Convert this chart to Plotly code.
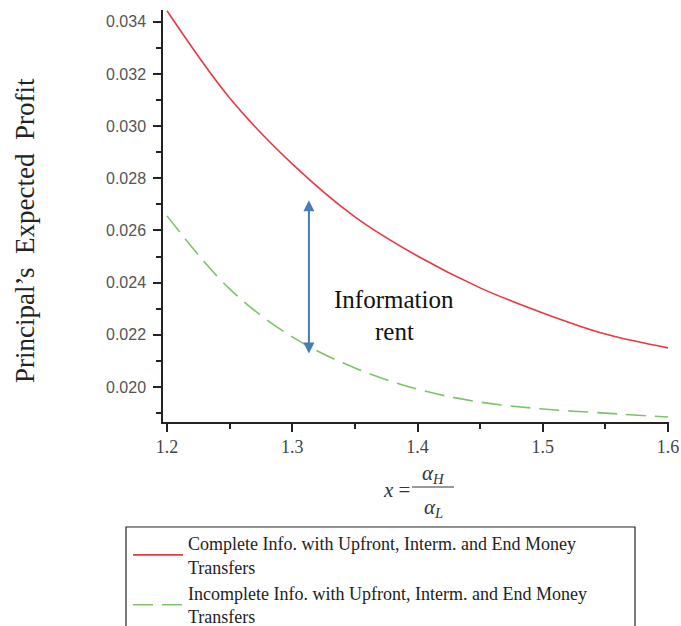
import plotly.graph_objects as go

# ---- data ----
x_vals = [1.20, 1.25, 1.30, 1.35, 1.40, 1.45, 1.50, 1.55, 1.60]
complete_info = [0.03442, 0.03108, 0.02855, 0.02652, 0.02502, 0.02380, 0.02284, 0.02203, 0.02150]
incomplete_info = [0.02656, 0.02376, 0.02192, 0.02073, 0.01992, 0.01942, 0.01916, 0.01900, 0.01885]

name_complete = "Complete Info. with Upfront, Interm. and End Money<br>Transfers"
name_incomplete = "Incomplete Info. with Upfront, Interm. and End Money<br>Transfers"

arrow_x = 1.3133
arrow_y_low = 0.02123
arrow_y_high = 0.02716

x_ticks = [1.2, 1.3, 1.4, 1.5, 1.6]
y_ticks = [0.020, 0.022, 0.024, 0.026, 0.028, 0.030, 0.032, 0.034]

W, H = 681, 626
ML, MR, MT, MB = 163, 12, 10, 204
PW = W - ML - MR
PH = H - MT - MB


def px(xp):
    return (xp - ML) / PW


def py(yp):
    return (H - MB - yp) / PH


serif = "Liberation Serif, Times New Roman, serif"


def label(xp, yp, text, size, color="#222", angle=0):
    return dict(x=px(xp), y=py(yp), xref="paper", yref="paper", text=text,
                xanchor="center", yanchor="middle", textangle=angle,
                showarrow=False, font=dict(family=serif, size=size, color=color))


fig = go.Figure()
fig.add_trace(go.Scatter(
    x=x_vals, y=complete_info, mode="lines", name=name_complete,
    line=dict(color="rgb(228,58,68)", width=1.6, shape="spline"),
))
fig.add_trace(go.Scatter(
    x=x_vals, y=incomplete_info, mode="lines", name=name_incomplete,
    line=dict(color="rgb(125,195,105)", width=1.6, shape="spline", dash="20px,9px"),
))

annotations = [
    dict(x=arrow_x, y=arrow_y_high, ax=arrow_x, ay=arrow_y_low, xref="x", yref="y",
         axref="x", ayref="y", showarrow=True, arrowhead=2, arrowside="end+start",
         arrowsize=1.1, arrowwidth=2, arrowcolor="rgb(70,125,185)", text=""),
    label(394, 299, "Information", 25, "#111"),
    label(394, 331, "rent", 25, "#111"),
    label(25, 231, "Principal\u2019s  Expected  Profit", 27, "#222", -90),
    label(396, 490, "<i>x</i> =", 21, "#333"),
    label(433, 474, "<i>\u03b1<sub>H</sub></i>", 21, "#333"),
    label(433, 508, "<i>\u03b1<sub>L</sub></i>", 21, "#333"),
]

shapes = [
    dict(type="line", xref="paper", yref="paper", x0=px(412), x1=px(454), y0=py(487), y1=py(487),
         line=dict(color="#333", width=1.2)),
    dict(type="rect", xref="paper", yref="paper", x0=px(126), x1=px(635), y0=py(527), y1=py(640),
         line=dict(color="#222", width=1.2)),
]

fig.update_layout(
    width=W, height=H,
    margin=dict(l=ML, r=MR, t=MT, b=MB, autoexpand=False),
    paper_bgcolor="white", plot_bgcolor="white",
    showlegend=True,
    legend=dict(x=px(128), y=py(525), xanchor="left", yanchor="top",
                font=dict(family=serif, size=18, color="#222"),
                bgcolor="rgba(0,0,0,0)", borderwidth=0, itemwidth=50,
                tracegroupgap=6),
    annotations=annotations,
    shapes=shapes,
)

fig.update_xaxes(
    range=[1.1968, 1.6008], tickvals=x_ticks, ticktext=[f"{v:.1f}" for v in x_ticks],
    showgrid=False, zeroline=False, showline=True, linecolor="#222", linewidth=1.5,
    ticks="outside", ticklen=8, tickwidth=1.5, tickcolor="#222",
    tickfont=dict(family=serif, size=18, color="#444"),
    minor=dict(dtick=0.05, tick0=1.2, ticks="outside", ticklen=5, tickwidth=1.5, tickcolor="#222", showgrid=False),
    fixedrange=True,
)
fig.update_yaxes(
    range=[0.01866, 0.03445], tickvals=y_ticks, ticktext=[f"{v:.3f}" for v in y_ticks],
    showgrid=False, zeroline=False, showline=True, linecolor="#222", linewidth=1.5,
    ticks="outside", ticklen=8, tickwidth=1.5, tickcolor="#222",
    tickfont=dict(family="Liberation Sans Narrow, Liberation Sans, Arial", size=16, color="#555"),
    minor=dict(dtick=0.001, tick0=0.02, ticks="outside", ticklen=5, tickwidth=1.5, tickcolor="#222", showgrid=False),
    ticklabelstandoff=4,
    fixedrange=True,
)

fig.write_html("out.html")
